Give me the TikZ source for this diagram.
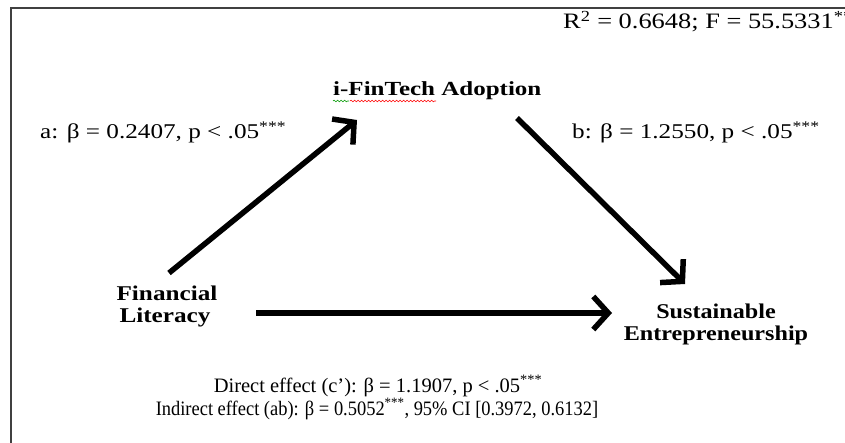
\documentclass[tikz,border=0pt]{standalone}
\usepackage{fontspec}
\setmainfont{Liberation Serif}
\usetikzlibrary{arrows.meta,decorations.pathmorphing}
\newcommand\hstretch[2]{\scalebox{#1}[1]{#2}}
\begin{document}
\begin{tikzpicture}[x=1pt,y=-1pt,
  lab/.style={inner sep=0pt, font=\fontsize{21}{23}\selectfont},
  blab/.style={inner sep=0pt, font=\fontsize{21}{23}\selectfont\bfseries},
  arr/.style={line width=5.5pt, -{Straight Barb[length=15pt,width=33pt]}},
  squig/.style={line width=0.6pt, decorate, decoration={snake, amplitude=0.8pt, segment length=3.5pt}}]
\useasboundingbox (0,0) rectangle (845,443);
\fill[white] (0,0) rectangle (845,443);
\draw[line width=1.5pt, black!75] (11,443) -- (11,8) -- (845,8);
% labels
\node[lab, anchor=base west, font=\fontsize{22}{24}\selectfont] (r2) at (563,29) {\hstretch{1.2}{R\textsuperscript{2} = 0.6648; F = 55.5331\textsuperscript{***}}};
\node[blab, anchor=base west, font=\fontsize{20}{22}\selectfont\bfseries] (ift) at (333,96) {\hstretch{1.25}{i-FinTech Adoption}};
\node[lab, anchor=base west] (alab) at (40,139) {\hstretch{1.2}{a: β = 0.2407, p < .05\textsuperscript{***}}};
\node[lab, anchor=base west] (blab) at (572,139) {\hstretch{1.2}{b: β = 1.2550, p < .05\textsuperscript{***}}};
\node[blab, anchor=base] (fl1) at (167,301) {\hstretch{1.2}{Financial}};
\node[blab, anchor=base] (fl2) at (165,322) {\hstretch{1.2}{Literacy}};
\node[blab, anchor=base] (se1) at (716,318) {\hstretch{1.15}{Sustainable}};
\node[blab, anchor=base] (se2) at (716,340) {\hstretch{1.15}{Entrepreneurship}};
\node[lab, anchor=base, font=\fontsize{20.5}{22}\selectfont] (dir) at (378,392) {Direct effect (c’): β = 1.1907, p < .05\textsuperscript{***}};
\node[lab, anchor=base, font=\fontsize{20.5}{22}\selectfont] (ind) at (377,415) {\hstretch{0.9}{Indirect effect (ab): β = 0.5052\textsuperscript{***}, 95\% CI [0.3972, 0.6132]}};
% spell-check marks
\draw[squig, green!60!black] (333,101) -- (349,101);
\draw[squig, red] (350,101) -- (436,101);
% arrows
\coordinate (a0) at (169,273);
\coordinate (a1) at (357,120);
\coordinate (b0) at (517,118);
\coordinate (b1) at (685,284);
\coordinate (c0) at (256,313);
\coordinate (c1) at (612,313);
\draw[arr] (a0) -- (a1);
\draw[arr] (b0) -- (b1);
\draw[arr] (c0) -- (c1);
\end{tikzpicture}
\end{document}
